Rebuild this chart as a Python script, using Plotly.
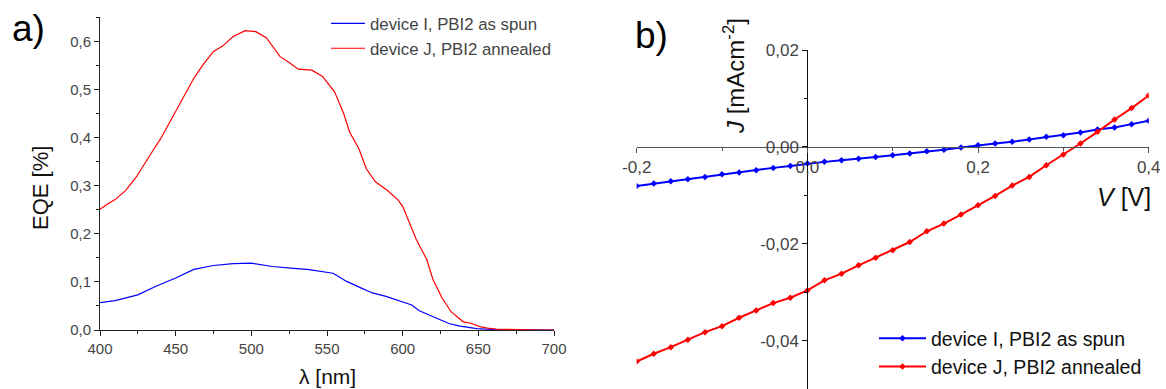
import plotly.graph_objects as go

# ---------------- data: panel a) EQE ----------------
wl_I = [400, 410, 425, 437, 450, 462, 475, 488, 500, 514, 528, 537, 554, 563, 572,
        580, 589, 600, 606, 611, 618, 625, 631, 638, 649, 660, 680, 700]
eqe_I = [0.057, 0.061, 0.073, 0.091, 0.108, 0.126, 0.134, 0.138, 0.139, 0.132, 0.128,
         0.126, 0.118, 0.101, 0.088, 0.077, 0.070, 0.059, 0.052, 0.040, 0.030, 0.021,
         0.013, 0.008, 0.003, 0.001, 0.0, 0.0]

wl_J = [400, 405, 410, 417, 424, 430, 435, 440, 448, 455, 462, 468, 475, 481, 488,
        496, 503, 510, 515, 519, 525, 531, 540, 547, 555, 561, 565, 571, 576, 582,
        590, 597, 600, 605, 609, 616, 620, 626, 632, 640, 645, 651, 656, 662, 670,
        680, 690, 700]
eqe_J = [0.251, 0.262, 0.271, 0.290, 0.318, 0.349, 0.373, 0.397, 0.443, 0.481, 0.523,
         0.551, 0.579, 0.590, 0.610, 0.622, 0.620, 0.607, 0.585, 0.568, 0.556, 0.542,
         0.540, 0.527, 0.495, 0.450, 0.411, 0.377, 0.335, 0.308, 0.290, 0.270, 0.257,
         0.220, 0.188, 0.146, 0.105, 0.067, 0.038, 0.017, 0.014, 0.007, 0.004, 0.002,
         0.001, 0.0, 0.0, 0.0]

# ---------------- data: panel b) J-V ----------------
V = [-0.20, -0.18, -0.16, -0.14, -0.12, -0.10, -0.08, -0.06, -0.04, -0.02, 0.00,
     0.02, 0.04, 0.06, 0.08, 0.10, 0.12, 0.14, 0.16, 0.18, 0.20, 0.22, 0.24, 0.26,
     0.28, 0.30, 0.32, 0.34, 0.36, 0.38, 0.40]
J_I = [-0.00807, -0.00759, -0.00710, -0.00669, -0.00620, -0.00566, -0.00531, -0.00483,
       -0.00434, -0.00393, -0.00345, -0.00310, -0.00276, -0.00248, -0.00207, -0.00172,
       -0.00138, -0.00090, -0.00062, -0.00014, 0.00034, 0.00069, 0.00103, 0.00152,
       0.00207, 0.00241, 0.00297, 0.00359, 0.00400, 0.00469, 0.00538]
J_J = [-0.04432, -0.04273, -0.04136, -0.03984, -0.03826, -0.03702, -0.03529, -0.03377,
       -0.03226, -0.03115, -0.02964, -0.02757, -0.02619, -0.02447, -0.02288, -0.02136,
       -0.01965, -0.01743, -0.01585, -0.01398, -0.01206, -0.01013, -0.00800, -0.00620,
       -0.00379, -0.00158, 0.00069, 0.00310, 0.00566, 0.00800, 0.01060]

names = ["device I, PBI2 as spun", "device J, PBI2 annealed"]

# ---------------- tick labels ----------------
eqe_x_ticks = [400, 450, 500, 550, 600, 650, 700]
eqe_x_labels = ["400", "450", "500", "550", "600", "650", "700"]
eqe_y_ticks = [0.0, 0.1, 0.2, 0.3, 0.4, 0.5, 0.6]
eqe_y_labels = ["0,0", "0,1", "0,2", "0,3", "0,4", "0,5", "0,6"]
iv_x_ticks = [-0.2, 0.0, 0.2, 0.4]
iv_x_labels = ["-0,2", "0,0", "0,2", "0,4"]
iv_y_ticks = [-0.04, -0.02, 0.0, 0.02]
iv_y_labels = ["-0,04", "-0,02", "0,00", "0,02"]

W, H = 1166, 389
FONT = "Liberation Sans, Arial, sans-serif"


def px(x):
    return x / W


def py(y):
    return 1 - y / H


BLUE = "#0000ff"
RED = "#ff0000"

fig = go.Figure()
fig.add_trace(go.Scatter(x=wl_I, y=eqe_I, mode="lines", name=names[0],
                         line=dict(color=BLUE, width=1.2), xaxis="x", yaxis="y",
                         legend="legend"))
fig.add_trace(go.Scatter(x=wl_J, y=eqe_J, mode="lines", name=names[1],
                         line=dict(color=RED, width=1.2), xaxis="x", yaxis="y",
                         legend="legend"))
fig.add_trace(go.Scatter(x=V, y=J_I, mode="lines+markers", name=names[0],
                         line=dict(color=BLUE, width=2),
                         marker=dict(symbol="diamond", size=5, color=BLUE),
                         xaxis="x2", yaxis="y2", legend="legend2"))
fig.add_trace(go.Scatter(x=V, y=J_J, mode="lines+markers", name=names[1],
                         line=dict(color=RED, width=2),
                         marker=dict(symbol="diamond", size=5, color=RED),
                         xaxis="x2", yaxis="y2", legend="legend2"))

# domains (paper coords)
xa_dom = [px(100), px(554)]
ya_dom = [py(330), py(17.2)]
xb_dom = [px(636.7), px(1148.7)]
yb_dom = [0.0, py(50)]
xb_rng = [-0.2, 0.4]
yb_rng = [-0.05, 0.02]
xaxis2_pos = yb_dom[0] + (yb_dom[1] - yb_dom[0]) * (0 - yb_rng[0]) / (yb_rng[1] - yb_rng[0])
yaxis2_pos = xb_dom[0] + (xb_dom[1] - xb_dom[0]) * (0 - xb_rng[0]) / (xb_rng[1] - xb_rng[0])

axcommon = dict(showgrid=False, zeroline=False, showline=True, linewidth=1,
                ticks="outside", ticklen=5, tickwidth=1, automargin=False)

fig.update_layout(
    width=W, height=H,
    margin=dict(l=0, r=0, t=0, b=0, pad=0, autoexpand=False),
    paper_bgcolor="white", plot_bgcolor="white",
    font=dict(family=FONT, color="#222"),
    xaxis=dict(domain=xa_dom, range=[400, 700], anchor="y", linecolor="#222",
               tickcolor="#222", tickvals=eqe_x_ticks, ticktext=eqe_x_labels,
               tickfont=dict(size=15, color="#444"),
               minor=dict(dtick=25, tick0=400, ticklen=3, ticks="outside", tickcolor="#222"),
               **axcommon),
    yaxis=dict(domain=ya_dom, range=[0, 0.65], anchor="x", linecolor="#222",
               tickcolor="#222", tickvals=eqe_y_ticks, ticktext=eqe_y_labels,
               tickfont=dict(size=15, color="#444"),
               minor=dict(dtick=0.05, tick0=0, ticklen=3, ticks="outside", tickcolor="#222"),
               **axcommon),
    xaxis2=dict(domain=xb_dom, range=xb_rng, anchor="free", position=xaxis2_pos,
                linecolor="#555", tickcolor="#555", tickvals=iv_x_ticks,
                ticktext=iv_x_labels, tickfont=dict(size=17, color="#444"),
                minor=dict(dtick=0.1, tick0=0, ticklen=3, ticks="outside", tickcolor="#555"),
                **axcommon),
    yaxis2=dict(domain=yb_dom, range=yb_rng, anchor="free", position=yaxis2_pos,
                linecolor="#111", tickcolor="#111", tickvals=iv_y_ticks,
                ticktext=iv_y_labels, tickfont=dict(size=17, color="#444"),
                minor=dict(dtick=0.01, tick0=0, ticklen=3, ticks="outside", tickcolor="#111"),
                **axcommon),
    legend=dict(x=px(326), y=py(6), xanchor="left", yanchor="top",
                bgcolor="rgba(0,0,0,0)", font=dict(size=16.8, color="#444"),
                tracegroupgap=0, itemwidth=34),
    legend2=dict(x=px(874), y=py(319), xanchor="left", yanchor="top",
                 bgcolor="rgba(0,0,0,0)", font=dict(size=19.5, color="#111"),
                 tracegroupgap=0, itemwidth=47),
    showlegend=True,
)

ann = [
    dict(text="a)", x=px(10), y=py(28), xanchor="left", yanchor="middle",
         font=dict(size=37, color="black")),
    dict(text="b)", x=px(633), y=py(35), xanchor="left", yanchor="middle",
         font=dict(size=37, color="black")),
    dict(text="EQE [%]", x=px(40), y=py(188), xanchor="center", yanchor="middle",
         textangle=-90, font=dict(size=22, color="#111")),
    dict(text="λ [nm]", x=px(327), y=py(376), xanchor="center", yanchor="middle",
         font=dict(size=21, color="#111")),
    dict(text="<i>J</i> [mAcm<sup>-2</sup>]", x=px(734), y=py(76), xanchor="center",
         yanchor="middle", textangle=-90, font=dict(size=24, color="#111")),
    dict(text="<i>V</i> [V]", x=px(1124), y=py(197), xanchor="center", yanchor="middle",
         font=dict(size=25, color="#111")),
]
for a in ann:
    a.update(xref="paper", yref="paper", showarrow=False)
fig.update_layout(annotations=ann)

fig.write_html(
    "out.html",
    config={"displayModeBar": False},
    post_script="document.body.style.margin='0';document.body.style.overflow='hidden';",
)
